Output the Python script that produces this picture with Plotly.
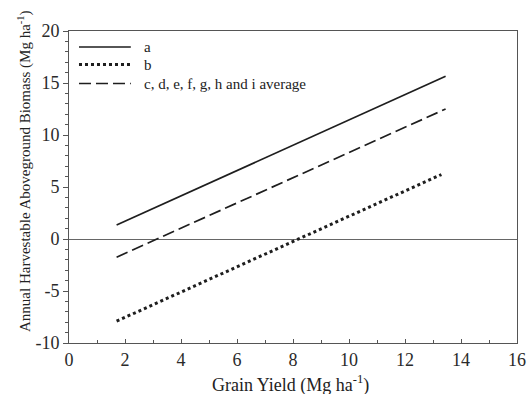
import plotly.graph_objects as go

# Data
x_a = [1.7, 13.45]
y_a = [1.35, 15.65]
x_b = [1.7, 13.3]
y_b = [-7.9, 6.2]
x_c = [1.7, 13.45]
y_c = [-1.75, 12.5]
names = ["a", "b", "c, d, e, f, g, h and i average"]
x_tickvals = [0, 2, 4, 6, 8, 10, 12, 14, 16]
x_ticktext = ["0", "2", "4", "6", "8", "10", "12", "14", "16"]
y_tickvals = [-10, -5, 0, 5, 10, 15, 20]
y_ticktext = ["-10", "-5", "0", "5", "10", "15", "20"]
x_title = "Grain Yield (Mg ha<sup>-1</sup>)"
y_title = "Annual Harvestable Aboveground Biomass (Mg ha<sup>-1</sup>)"

FONT = "Liberation Serif"
INK = "#1e1e1e"
AX = "#555"

styles = [dict(color=INK, width=1.7),
          dict(color=INK, width=3, dash="dot"),
          dict(color=INK, width=1.7, dash="12px,5px")]

fig = go.Figure()
for xs, ys, nm, st in zip([x_a, x_b, x_c], [y_a, y_b, y_c], names, styles):
    fig.add_trace(go.Scatter(x=xs, y=ys, mode="lines", name=nm, line=st,
                             showlegend=False))

# Legend drawn as keys + labels inside the top-left corner of the plot
legend_rows = [0.9487, 0.8926, 0.8317]
for nm, st, yy in zip(names, styles, legend_rows):
    fig.add_shape(type="line", xref="x domain", yref="y domain",
                  x0=0.0223, x1=0.138, y0=yy, y1=yy, line=st)
    fig.add_annotation(xref="x domain", yref="y domain", x=0.163, y=yy,
                       text=nm, showarrow=False, xanchor="left", yanchor="middle",
                       font=dict(family=FONT, size=15, color="#222"))

# Axis titles as annotations for exact placement
fig.add_annotation(xref="paper", yref="paper", x=0.4955, y=-0.131,
                   text=x_title, showarrow=False, xanchor="center", yanchor="middle",
                   font=dict(family=FONT, size=18, color="#222"))
fig.add_annotation(xref="paper", yref="paper", x=-0.0982, y=0.5513,
                   text=y_title, showarrow=False, textangle=-90,
                   xanchor="center", yanchor="middle",
                   font=dict(family=FONT, size=15, color="#222"))

fig.update_xaxes(range=[0, 16], tickmode="array", tickvals=x_tickvals,
                 ticktext=x_ticktext, ticks="inside", ticklen=4, tickcolor=AX,
                 minor=dict(dtick=1, tick0=0, ticks="inside", ticklen=3, tickcolor=AX),
                 showgrid=False, showline=True, linecolor=AX, linewidth=1, mirror=True,
                 zeroline=False, automargin=False,
                 tickfont=dict(family=FONT, size=18, color="#2a2a2a"))
fig.update_yaxes(range=[-10, 20], tickmode="array", tickvals=y_tickvals,
                 ticktext=y_ticktext, ticks="outside", ticklen=5, tickcolor=AX,
                 minor=dict(dtick=1, tick0=0, ticks="outside", ticklen=3, tickcolor=AX),
                 showgrid=False, showline=True, linecolor=AX, linewidth=1, mirror=True,
                 zeroline=True, zerolinecolor="#666", zerolinewidth=1, automargin=False,
                 tickfont=dict(family=FONT, size=18, color="#2a2a2a"))

fig.update_layout(
    width=528, height=394,
    margin=dict(l=69, r=11, t=31, b=51),
    paper_bgcolor="white", plot_bgcolor="white",
    font=dict(family=FONT, color="#222"),
    showlegend=False,
)

# Remove the default page margin so the figure fills the window exactly
fig.write_html("out.html",
               config={"displayModeBar": False},
               post_script="document.body.style.margin='0';"
                           "document.body.style.overflow='hidden';")
